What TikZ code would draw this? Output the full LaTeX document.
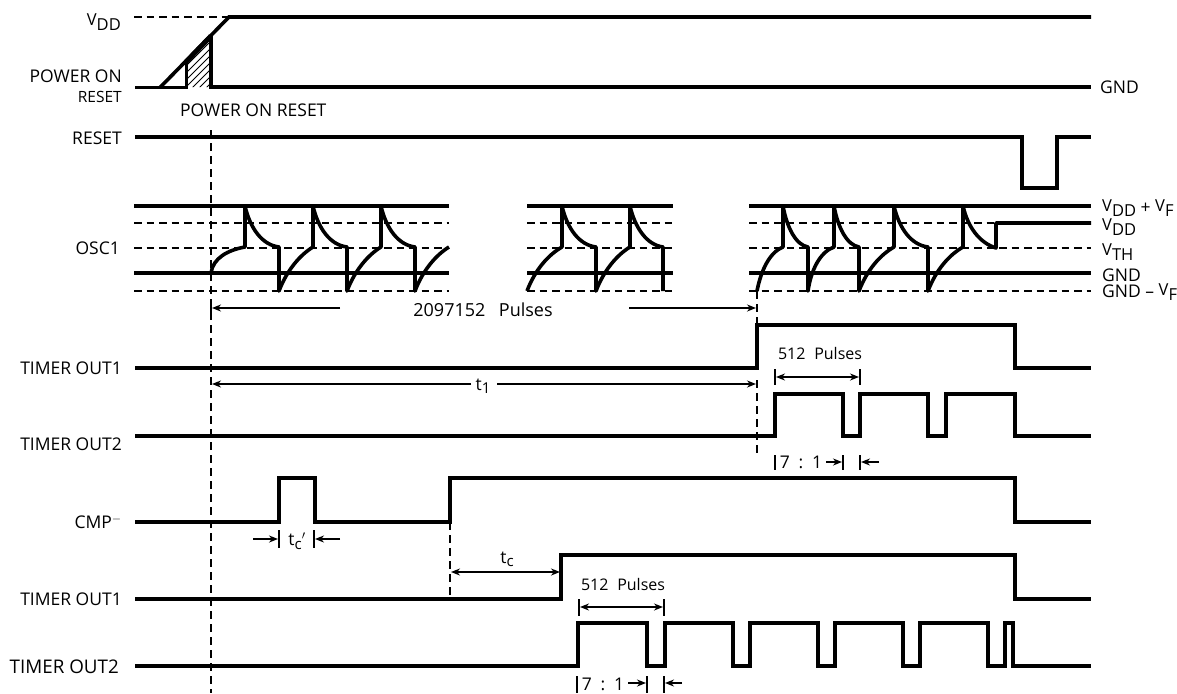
\documentclass[tikz,border=0pt]{standalone}
\usepackage{fontspec}
\setmainfont{Open Sans}
\usetikzlibrary{arrows.meta}
\newcommand{\subt}[1]{\raisebox{-0.3ex}{\fontsize{16.5}{17}\selectfont #1}}
\newcommand{\vv}{\raisebox{0.3ex}{\fontsize{16.5}{17}\selectfont V}}
\tikzset{
  x=1pt,y=-1pt,
  wave/.style={line width=3.6pt,line join=miter,line cap=butt},
  guide/.style={line width=1.9pt,dash pattern=on 7.5pt off 5pt},
  vdash/.style={line width=1.5pt,dash pattern=on 8pt off 5pt},
  dim/.style={line width=1.5pt},
  tip/.style={-{Stealth[length=9pt,width=7pt]}},
  bar/.style={line width=1.6pt},
  lab/.style={font=\fontsize{17.5}{18}\selectfont,inner sep=0pt},
  llab/.style={lab,anchor=east},
  rlab/.style={lab,anchor=west},
  clab/.style={lab,anchor=center},
}
\begin{document}
\begin{tikzpicture}
\useasboundingbox (0,0) rectangle (1177,693);
% Supply
\draw[guide] (134,17) -- (228,17);
\draw[wave] (160,87.5) -- (229,17) -- (1091,17);
\begin{scope}
\clip (186,87) -- (186,62) -- (211,36) -- (211,87) -- cycle;
\foreach \i in {0,7,...,98}{\draw[line width=0.9pt] (150+\i,95) -- ++(60,-60);}
\end{scope}
\draw[wave,line width=3pt] (135,87) -- (186,87) -- (186,62);
\draw[wave,line width=5pt] (186,62) -- (211,36);
\draw[wave] (211,35) -- (211,87) -- (1091,87);
% RESET
\draw[wave] (135,137) -- (1022,137) -- (1022,188) -- (1057,188) -- (1057,137) -- (1091,137);
% OSC guides
\foreach \a/\b in {134/449,527/673,749/1091}{
  \draw[wave] (\a,206) -- (\b,206);
  \draw[wave] (\a,273) -- (\b,273);
  \draw[guide] (\a,291) -- (\b,291);
  \draw[guide] (\a,248) -- (\b,248);
}
\draw[guide] (134,223) -- (449,223);
\draw[guide] (527,223) -- (673,223);
\draw[guide] (749,223) -- (996,223);
% OSC traces
\draw[wave,line join=round] (211,273) .. controls (213,258) and (228,250) .. (245,247) -- (245,206)
  .. controls (250,228) and (262,245) .. (279,247) -- (279,291)
  .. controls (287,270) and (300,255) .. (313,247) -- (313,206)
  .. controls (318,228) and (330,245) .. (347,247) -- (347,291)
  .. controls (355,270) and (368,255) .. (381,247) -- (381,206)
  .. controls (386,228) and (398,245) .. (415,247) -- (415,291)
  .. controls (423,270) and (436,255) .. (449,247);
\draw[wave,line join=round] (527,291) .. controls (535,270) and (548,255) .. (562,247) -- (562,206)
  .. controls (567,228) and (579,245) .. (596,247) -- (596,291)
  .. controls (604,270) and (617,255) .. (630,247) -- (630,206)
  .. controls (635,228) and (647,245) .. (663,247) -- (663,291);
\draw[wave,line join=round] (757,291) .. controls (761,270) and (770,252) .. (783,247) -- (783,206)
  .. controls (787,228) and (796,245) .. (808,247) -- (808,291)
  .. controls (811,270) and (820,252) .. (834,247) -- (834,206)
  .. controls (838,228) and (847,245) .. (859,247) -- (859,291)
  .. controls (867,270) and (880,255) .. (894,247) -- (894,206)
  .. controls (899,228) and (911,245) .. (928,247) -- (928,291)
  .. controls (936,270) and (949,255) .. (963,247) -- (963,206)
  .. controls (968,228) and (980,243) .. (996,248) -- (996,223) -- (1091,223);
% Vertical dashed markers
\draw[vdash] (211,130) -- (211,693);
\draw[vdash] (757,291) -- (757,325);
\draw[vdash] (757,380) -- (757,455);
\draw[vdash] (450,522) -- (450,595);
% Pulses count
\node[clab,font=\fontsize{18}{18}\selectfont] (pulses) at (483,310) {2097152\hspace{0.75em}Pulses};
\draw[dim,tip] (340,308) -- (212,308);
\draw[bar] (211,301) -- (211,315);
\draw[dim,tip] (629,308) -- (756,308);
% Timer 1
\draw[wave] (135,368) -- (757,368) -- (757,325) -- (1015,325) -- (1015,368) -- (1091,368);
\node[clab] (tone) at (483,386) {t\raisebox{-0.3ex}{\fontsize{15}{15}\selectfont 1}};
\draw[dim,tip] (471,384) -- (212,384);
\draw[dim,tip] (497,384) -- (756,384);
\node[clab,font=\fontsize{16}{16}\selectfont] (pa) at (820,353) {512\hspace{0.55em}Pulses};
\draw[bar] (775,369) -- (775,385);
\draw[bar] (860,369) -- (860,385);
\draw[dim,{Stealth[length=9pt,width=7pt]}-{Stealth[length=9pt,width=7pt]}] (776,377) -- (859,377);
% Timer 2
\draw[wave] (135,436) -- (775,436) -- (775,394) -- (843,394) -- (843,436) -- (860,436) -- (860,394) -- (928,394) -- (928,436) -- (946,436) -- (946,394) -- (1015,394) -- (1015,436) -- (1091,436);
\draw[bar] (775,455) -- (775,470);
\node[clab] (ra) at (801,462) {7\hspace{0.5em}:\hspace{0.5em}1};
\draw[dim,tip] (826,462) -- (842,462);
\draw[bar] (843,455) -- (843,470);
\draw[bar] (860,455) -- (860,470);
\draw[dim,tip] (879,462) -- (861,462);
% CMP
\draw[wave] (135,522) -- (279,522) -- (279,478) -- (315,478) -- (315,522) -- (450,522) -- (450,478) -- (1015,478) -- (1015,522) -- (1091,522);
\draw[bar] (279,530) -- (279,548);
\draw[bar] (314,530) -- (314,548);
\draw[dim,tip] (253,539) -- (278,539);
\draw[dim,tip] (340,539) -- (315,539);
\node[clab] (tcp) at (297,541) {t\raisebox{-0.45ex}{\fontsize{15}{15}\selectfont c}$'$};
% Timer 1b
\draw[wave] (135,599) -- (561,599) -- (561,555) -- (1015,555) -- (1015,599) -- (1091,599);
\draw[dim,{Stealth[length=9pt,width=7pt]}-{Stealth[length=9pt,width=7pt]}] (451,572) -- (560,572);
\node[clab] (tc) at (507,559) {t\raisebox{-0.35ex}{\fontsize{15}{15}\selectfont c}};
\node[clab,font=\fontsize{16}{16}\selectfont] (pb) at (623,584) {512\hspace{0.55em}Pulses};
\draw[bar] (579,599) -- (579,616);
\draw[bar] (664,599) -- (664,616);
\draw[dim,{Stealth[length=9pt,width=7pt]}-{Stealth[length=9pt,width=7pt]}] (580,607) -- (663,607);
% Timer 2b
\draw[wave] (135,666) -- (578,666) -- (578,623) -- (647,623) -- (647,666) -- (665,666) -- (665,623) -- (733,623) -- (733,666) -- (750,666) -- (750,623) -- (818,623) -- (818,666) -- (835,666) -- (835,623) -- (903,623) -- (903,666) -- (920,666) -- (920,623) -- (988,623) -- (988,666) -- (1005,666) -- (1005,623) -- (1013,623) -- (1013,666) -- (1091,666);
\draw[bar] (577,676) -- (577,693);
\node[clab] (rb) at (603,684) {7\hspace{0.5em}:\hspace{0.5em}1};
\draw[dim,tip] (628,683) -- (646,683);
\draw[bar] (647,676) -- (647,693);
\draw[bar] (664,676) -- (664,693);
\draw[dim,tip] (682,683) -- (665,683);
% Left labels
\node[llab] (lvdd) at (121,22) {\vv\subt{DD}};
\node[llab] (lpor) at (122,76) {POWER ON};
\node[llab,font=\fontsize{15.5}{16}\selectfont] (lrs) at (122,97) {RESET};
\node[rlab] (lmid) at (180,110) {POWER ON RESET};
\node[llab] (lres) at (122,138) {RESET};
\node[llab] (losc) at (120,248) {OSC1};
\node[llab] (lt1) at (122,368) {TIMER OUT1};
\node[llab] (lt2) at (122,444) {TIMER OUT2};
\node[llab] (lcmp) at (122,522) {CMP$^{-}$};
\node[llab] (lt1b) at (122,599) {TIMER OUT1};
\node[llab,font=\fontsize{18.8}{19}\selectfont] (lt2b) at (119,667) {TIMER OUT2};
% Right labels
\node[rlab] (rgnd) at (1100,87) {GND};
\node[rlab] (rv1) at (1102,208) {\vv\subt{DD} + \vv\subt{F}};
\node[rlab] (rv2) at (1102,227) {\vv\subt{DD}};
\node[rlab] (rv3) at (1102,252) {\vv\subt{TH}};
\node[rlab] (rg) at (1102,275) {GND};
\node[rlab] (rgv) at (1102,292) {GND -- \vv\subt{F}};
\end{tikzpicture}
\end{document}
